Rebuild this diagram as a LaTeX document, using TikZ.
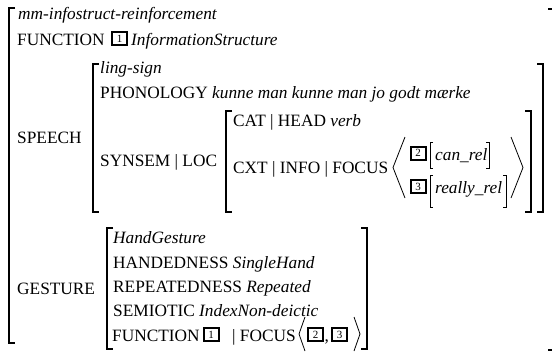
\documentclass[tikz,border=0pt]{standalone}
\usepackage{fontspec}
\setmainfont{Liberation Serif}
\newcommand\avmfs{\fontsize{17.3bp}{20bp}\selectfont}
\newcommand\avmtagfs{\fontsize{11bp}{12bp}\selectfont}
\begin{document}
\begin{tikzpicture}[x=1bp,y=-1bp,
  txt/.style={anchor=base west,inner sep=0pt,font=\avmfs},
  brk/.style={line width=1.5bp},
  thinbrk/.style={line width=0.8bp},
  tagbox/.style={draw,line width=2bp,inner sep=0pt,minimum width=15bp,minimum height=13bp,font=\avmtagfs}]
\useasboundingbox (0,0) rectangle (552,352);
% outer matrix
\draw[brk] (15,8) -- (9,8) -- (9,343) -- (15,343);
\draw[brk] (548,9) -- (552,9);
\draw[brk] (548,350) -- (552,350);
\node[txt] (type) at (18,19) {\itshape mm-infostruct-reinforcement};
\node[txt] (fn) at (17,45.5) {FUNCTION};
\node[tagbox] (t1) at (119.5,38.5) {1};
\node[txt] (fnval) at (131,45.5) {\itshape InformationStructure};
% speech
\node[txt] (speech) at (17,143) {SPEECH};
\draw[brk] (99,64) -- (93,64) -- (93,212) -- (99,212);
\draw[brk] (537,64) -- (543,64) -- (543,212) -- (537,212);
\node[txt] (ling) at (100,73.5) {\itshape ling-sign};
\node[txt] (phon) at (100,98) {PHONOLOGY \itshape kunne man kunne man jo godt mærke};
\node[txt] (synsem) at (100,166) {SYNSEM | LOC};
\draw[brk] (232,111) -- (226,111) -- (226,212) -- (232,212);
\draw[brk] (525,111) -- (531,111) -- (531,212) -- (525,212);
\node[txt] (cat) at (233,126) {CAT | HEAD \itshape verb};
\node[txt] (cxt) at (233,173) {CXT | INFO | FOCUS};
\draw[thinbrk] (405,137) -- (393,167.5) -- (405,198);
\draw[thinbrk] (511,137) -- (523,167.5) -- (511,198);
\node[tagbox] (t2) at (418,153) {2};
\draw[thinbrk] (433,142) -- (430,142) -- (430,168) -- (433,168);
\node[txt] (canrel) at (435,160) {\itshape can\_rel};
\draw[thinbrk] (486,142) -- (489,142) -- (489,168) -- (486,168);
\node[tagbox] (t3) at (418,186.5) {3};
\draw[thinbrk] (433,175) -- (430,175) -- (430,207) -- (433,207);
\node[txt] (reallyrel) at (435,193) {\itshape really\_rel};
\draw[thinbrk] (503,175) -- (506,175) -- (506,207) -- (503,207);
% gesture
\node[txt] (gesture) at (17,294) {GESTURE};
\draw[brk] (113,228) -- (107,228) -- (107,349) -- (113,349);
\draw[brk] (361,228) -- (367,228) -- (367,349) -- (361,349);
\node[txt] (hg) at (113,243) {\itshape HandGesture};
\node[txt] (hand) at (113,268) {HANDEDNESS \itshape SingleHand};
\node[txt] (rep) at (113,292) {REPEATEDNESS \itshape Repeated};
\node[txt] (sem) at (113,316) {SEMIOTIC \itshape IndexNon-deictic};
\node[txt] (gfn) at (112,341) {FUNCTION};
\node[tagbox] (g1) at (211,334.5) {1};
\node[txt] (gfocus) at (232,341) {| FOCUS};
\draw[thinbrk] (305,317) -- (299,334) -- (305,351);
\node[tagbox] (g2) at (315.5,334.5) {2};
\node[txt] (comma) at (324.5,341) {,};
\node[tagbox] (g3) at (339.5,334.5) {3};
\draw[thinbrk] (354,317) -- (360,334) -- (354,351);
\end{tikzpicture}
\end{document}
